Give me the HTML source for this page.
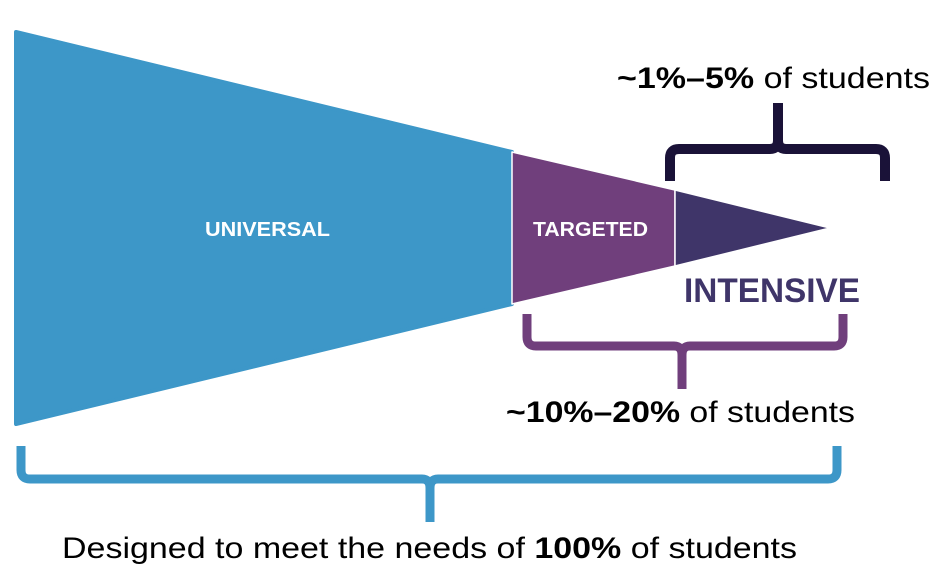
<!DOCTYPE html>
<html><head><style>
body{margin:0;width:936px;height:574px;background:#fff;overflow:hidden}
svg{display:block}
</style></head><body>
<svg width="936" height="574" viewBox="0 0 936 574" xmlns="http://www.w3.org/2000/svg" font-family="'Liberation Sans', sans-serif">
<polygon points="16,32 512,152 512,304 16,424" fill="#3d97c8" stroke="#3d97c8" stroke-width="4" stroke-linejoin="round"/>
<polygon points="512,152 675,190 675,266 512,304" fill="#703f7c" stroke="#fff" stroke-width="1.5" stroke-linejoin="round"/>
<polygon points="675,190 830,228 675,266" fill="#3f3569" stroke="#fff" stroke-width="1.5" stroke-linejoin="round"/>
<text x="205" y="236" fill="#fff" font-size="20" font-weight="bold" textLength="125" lengthAdjust="spacingAndGlyphs">UNIVERSAL</text>
<text x="533" y="236" fill="#fff" font-size="20" font-weight="bold" textLength="115" lengthAdjust="spacingAndGlyphs">TARGETED</text>
<text x="684" y="302" fill="#3f3569" font-size="34" font-weight="bold" textLength="176" lengthAdjust="spacingAndGlyphs">INTENSIVE</text>
<path d="M670,181 V158 Q670,149 679,149 H770 Q778,149 778,140 V103 M778,140 Q778,149 786,149 H876 Q885,149 885,158 V181" fill="none" stroke="#1a1238" stroke-width="10"/>
<path d="M527,314 V337 Q527,346 536,346 H674 Q682,346 682,355 V389 M682,355 Q682,346 690,346 H834 Q843,346 843,337 V314" fill="none" stroke="#703f7c" stroke-width="9"/>
<path d="M21,446 V470 Q21,479 30,479 H422 Q430,479 430,488 V522 M430,488 Q430,479 438,479 H828 Q837,479 837,470 V446" fill="none" stroke="#3d97c8" stroke-width="9"/>
<text x="617" y="88" font-size="30" fill="#000" textLength="313" lengthAdjust="spacingAndGlyphs"><tspan font-weight="bold">~1%–5%</tspan> of students</text>
<text x="506" y="422" font-size="30" fill="#000" textLength="349" lengthAdjust="spacingAndGlyphs"><tspan font-weight="bold">~10%–20%</tspan> of students</text>
<text x="62" y="558" font-size="30" fill="#000" textLength="735" lengthAdjust="spacingAndGlyphs">Designed to meet the needs of <tspan font-weight="bold">100%</tspan> of students</text>
</svg>
</body></html>
